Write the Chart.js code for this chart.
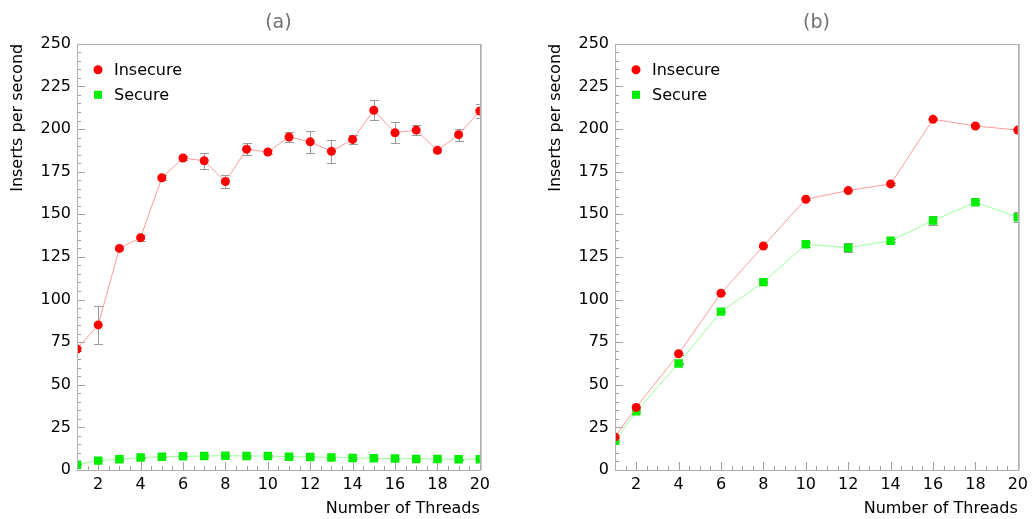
<!DOCTYPE html>
<html>
<head>
<meta charset="utf-8">
<script src="https://cdn.jsdelivr.net/npm/chart.js@4"></script>
<style>
body { margin: 0; background: #fff; width: 1033px; height: 519px; position: relative; overflow: hidden; }
.box { position: absolute; top: 0; width: 495px; height: 519px; }
#boxA { left: 0; }
#boxB { left: 538px; }
</style>
</head>
<body>
<div class="box" id="boxA"><canvas id="chartA"></canvas></div>
<div class="box" id="boxB"><canvas id="chartB"></canvas></div>
<script>
// (a) - every thread count from 1 to 20
const threadsA = [1, 2, 3, 4, 5, 6, 7, 8, 9, 10, 11, 12, 13, 14, 15, 16, 17, 18, 19, 20];
const insecureA = [71, 85.1, 130, 136.3, 171.4, 183, 181.4, 169.2, 188.2, 186.5, 195.3, 192.5, 186.9, 193.9, 211, 197.8, 199.4, 187.5, 196.7, 210.6];
const insecureErrA = [1, 11, 1, 1.8, 1.5, 1, 4.7, 4, 3.5, 1, 3, 6.5, 6.7, 2.8, 5.8, 6.2, 3, 1, 3.5, 4.2];
const secureA = [3.1, 5.5, 6.3, 7.3, 7.8, 8.0, 8.2, 8.4, 8.2, 8.2, 7.8, 7.6, 7.4, 7.1, 6.9, 6.7, 6.5, 6.5, 6.3, 6.3];
const secureErrA = [0.4, 0.4, 0.4, 0.4, 0.4, 0.4, 0.4, 0.4, 0.4, 0.4, 0.4, 0.4, 0.4, 0.4, 0.4, 0.4, 0.4, 0.4, 0.4, 0.4];

// (b) - even thread counts
const threadsB = [1, 2, 4, 6, 8, 10, 12, 14, 16, 18, 20];
const insecureB = [19.4, 36.7, 68.2, 103.7, 131.4, 158.8, 163.9, 167.8, 205.7, 201.8, 199.4];
const insecureErrB = [0.5, 0.5, 0.5, 0.5, 0.5, 0.5, 0.5, 0.5, 0.5, 0.5, 0.5];
const secureB = [17.1, 34.5, 62.5, 92.9, 110.2, 132.4, 130.4, 134.5, 146.3, 157.1, 148.2];
const secureErrB = [0.5, 0.5, 0.5, 0.5, 0.5, 1.5, 2.5, 1, 2.5, 1, 3];

const xTicks = [2, 4, 6, 8, 10, 12, 14, 16, 18, 20];
const yTicks = [0, 25, 50, 75, 100, 125, 150, 175, 200, 225, 250];

const FONT = 'DejaVu Sans';

function points(xs, ys) {
    return xs.map((x, i) => ({ x: x, y: ys[i] }));
}

// error bars, axis tick marks and the plot frame
const framePlugin = {
    id: 'frame',
    beforeDatasetsDraw(chart) {
        const ctx = chart.ctx;
        const a = chart.chartArea;
        const xs = chart.scales.x;
        const ys = chart.scales.y;
        ctx.save();
        ctx.strokeStyle = '#a0a0a0';
        ctx.lineWidth = 1;
        ctx.beginPath();
        // x ticks every 0.5, longer on even numbers
        for (let v = 1; v <= 20; v += 0.5) {
            const px = Math.round(xs.getPixelForValue(v)) + 0.5;
            const len = (v % 2 === 0) ? 8 : 4;
            ctx.moveTo(px, a.bottom);
            ctx.lineTo(px, a.bottom - len);
        }
        // y ticks every 5, longer every 25
        for (let v = 0; v <= 250; v += 5) {
            const py = Math.round(ys.getPixelForValue(v)) + 0.5;
            const len = (v % 25 === 0) ? 8 : 4;
            ctx.moveTo(a.left, py);
            ctx.lineTo(a.left + len, py);
        }
        ctx.stroke();

        // error bars, clipped to the plot
        ctx.beginPath();
        ctx.rect(a.left, a.top, a.right - a.left, a.bottom - a.top);
        ctx.clip();
        ctx.strokeStyle = '#9a9a9a';
        chart.data.datasets.forEach(ds => {
            if (!ds.errors) return;
            ctx.beginPath();
            ds.data.forEach((p, i) => {
                const e = ds.errors[i];
                const px = Math.round(xs.getPixelForValue(p.x)) + 0.5;
                const y1 = Math.round(ys.getPixelForValue(p.y + e)) + 0.5;
                const y2 = Math.round(ys.getPixelForValue(p.y - e)) + 0.5;
                ctx.moveTo(px, y1);
                ctx.lineTo(px, y2);
                ctx.moveTo(px - 4.5, y1);
                ctx.lineTo(px + 4.5, y1);
                ctx.moveTo(px - 4.5, y2);
                ctx.lineTo(px + 4.5, y2);
            });
            ctx.stroke();
        });
        ctx.restore();
    },
    afterDraw(chart) {
        const ctx = chart.ctx;
        const a = chart.chartArea;
        ctx.save();
        ctx.strokeStyle = '#b0b0b0';
        ctx.lineWidth = 1;
        ctx.strokeRect(Math.round(a.left) + 0.5, Math.round(a.top) + 0.5, Math.round(a.right - a.left), Math.round(a.bottom - a.top));
        ctx.strokeStyle = '#c8c8c8';
        ctx.beginPath();
        ctx.moveTo(Math.round(a.right) + 1.5, a.top);
        ctx.lineTo(Math.round(a.right) + 1.5, a.bottom);
        ctx.stroke();

        // legend in the top left corner of the plot
        ctx.font = '16px "' + FONT + '"';
        ctx.textBaseline = 'middle';
        chart.data.datasets.forEach((ds, i) => {
            const mx = a.left + 21;
            const my = a.top + 26 + i * 25;
            ctx.fillStyle = ds.pointBackgroundColor;
            if (ds.pointStyle === 'circle') {
                ctx.beginPath();
                ctx.arc(mx, my, 4.5, 0, Math.PI * 2);
                ctx.fill();
            } else {
                ctx.fillRect(mx - 4, my - 4, 8, 8);
            }
            ctx.fillStyle = '#000';
            ctx.fillText(ds.label, mx + 16, my + 1);
        });
        ctx.restore();
    }
};

function makeChart(id, title, xs, ins, insErr, sec, secErr) {
    const ctx = document.getElementById(id).getContext('2d');
    return new Chart(ctx, {
        type: 'line',
        data: {
            datasets: [{
                label: 'Insecure',
                data: points(xs, ins),
                errors: insErr,
                borderColor: '#ff9a9a',
                borderWidth: 1,
                pointStyle: 'circle',
                pointRadius: 4.5,
                pointBackgroundColor: '#ff0000',
                pointBorderWidth: 0,
                tension: 0,
                clip: 0
            }, {
                label: 'Secure',
                data: points(xs, sec),
                errors: secErr,
                borderColor: '#9aff9a',
                borderWidth: 1,
                pointStyle: 'rect',
                pointRadius: 6,
                pointBackgroundColor: '#00ee00',
                pointBorderWidth: 0,
                tension: 0,
                clip: 0
            }]
        },
        options: {
            responsive: true,
            maintainAspectRatio: false,
            animation: false,
            layout: { padding: { left: 0, right: 13, top: 0, bottom: 0 } },
            plugins: {
                legend: { display: false },
                tooltip: { enabled: false },
                title: {
                    display: true,
                    text: title,
                    fullSize: false,
                    color: '#707070',
                    font: { family: FONT, size: 19, weight: 'normal' },
                    padding: { top: 12, bottom: 9 }
                }
            },
            scales: {
                x: {
                    type: 'linear',
                    min: 1,
                    max: 20,
                    afterBuildTicks: s => { s.ticks = xTicks.map(v => ({ value: v })); },
                    afterFit: s => { s.height = 49; },
                    grid: { display: false, drawTicks: false },
                    border: { display: false },
                    ticks: { color: '#000', padding: 5, maxRotation: 0, font: { family: FONT, size: 16 } },
                    title: {
                        display: true,
                        text: 'Number of Threads',
                        align: 'end',
                        color: '#000',
                        font: { family: FONT, size: 16 },
                        padding: { top: 0, bottom: 1 }
                    }
                },
                y: {
                    min: 0,
                    max: 250,
                    afterBuildTicks: s => { s.ticks = yTicks.map(v => ({ value: v })); },
                    afterFit: s => { s.width = 77; },
                    grid: { display: false, drawTicks: false },
                    border: { display: false },
                    ticks: { color: '#000', padding: 6, font: { family: FONT, size: 16 } },
                    title: {
                        display: true,
                        text: 'Inserts per second',
                        align: 'end',
                        color: '#000',
                        font: { family: FONT, size: 16 },
                        padding: { top: 8, bottom: 0 }
                    }
                }
            }
        },
        plugins: [framePlugin]
    });
}

makeChart('chartA', '(a)', threadsA, insecureA, insecureErrA, secureA, secureErrA);
makeChart('chartB', '(b)', threadsB, insecureB, insecureErrB, secureB, secureErrB);
</script>
</body>
</html>
